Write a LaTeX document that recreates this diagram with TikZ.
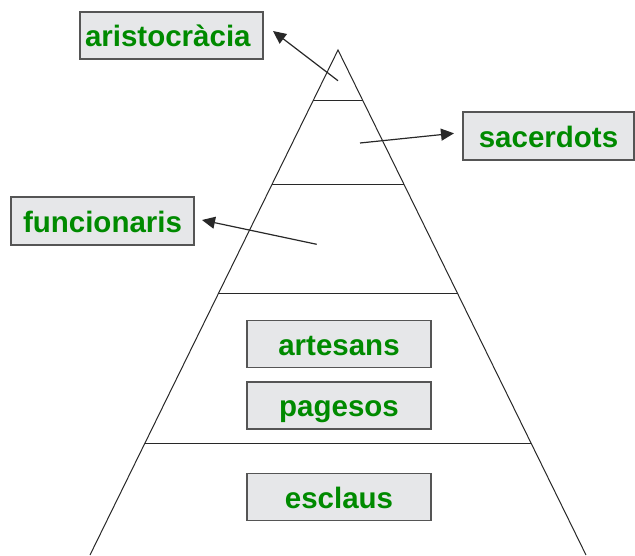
\documentclass[tikz,border=0pt]{standalone}
\usepackage{fontspec}
\setmainfont{Liberation Sans}
\usetikzlibrary{arrows.meta}
\definecolor{lblgreen}{RGB}{0,138,0}
\definecolor{boxfill}{RGB}{230,231,233}
\definecolor{boxdraw}{RGB}{85,85,85}
\definecolor{linecol}{RGB}{40,40,40}
\begin{document}
\begin{tikzpicture}[x=1pt,y=-1pt,
  lbl/.style={draw=boxdraw,line width=1.2pt,fill=boxfill,inner sep=0pt,
    minimum width=#1,minimum height=47pt,text=lblgreen,
    text height=22pt,text depth=0pt,
    font=\fontsize{29.5}{31}\selectfont\bfseries},
  lbl/.default=184pt,
  pyr/.style={draw=linecol,line width=1pt},
  arr/.style={draw=linecol,line width=1.2pt,-{Triangle[length=13pt,width=12pt]}}]
\useasboundingbox (0,0) rectangle (635,555);
% pyramid
\coordinate (apex) at (338,50);
\coordinate (bl) at (90,555);
\coordinate (br) at (586,555);
\draw[pyr] (bl) -- (apex) -- (br);
\draw[pyr] (313.4,100) -- (362.6,100);
\draw[pyr] (272,184) -- (404,184);
\draw[pyr] (219,293) -- (457,293);
\draw[pyr] (145,443) -- (531,443);
% labels
\node[lbl=183pt,inner xsep=5pt,text width=173pt,align=left] (aristo) at (171.5,35.5) {aristocràcia};
\node[lbl=171pt,minimum height=48pt] (sacer) at (548.5,136) {sacerdots};
\node[lbl=183pt,minimum height=48pt] (funcio) at (102.5,221) {funcionaris};
\node[lbl] (artes) at (339,344) {artesans};
\node[lbl] (pages) at (339,405.5) {pagesos};
\node[lbl] (escla) at (339,497) {esclaus};
% arrows
\coordinate (s1) at (338,80.7);
\coordinate (t1) at (273,31);
\coordinate (s2) at (360,143);
\coordinate (t2) at (454,133.3);
\coordinate (s3) at (316.7,244.3);
\coordinate (t3) at (202,220);
\draw[arr] (s1) -- (t1);
\draw[arr] (s2) -- (t2);
\draw[arr] (s3) -- (t3);
\end{tikzpicture}
\end{document}
